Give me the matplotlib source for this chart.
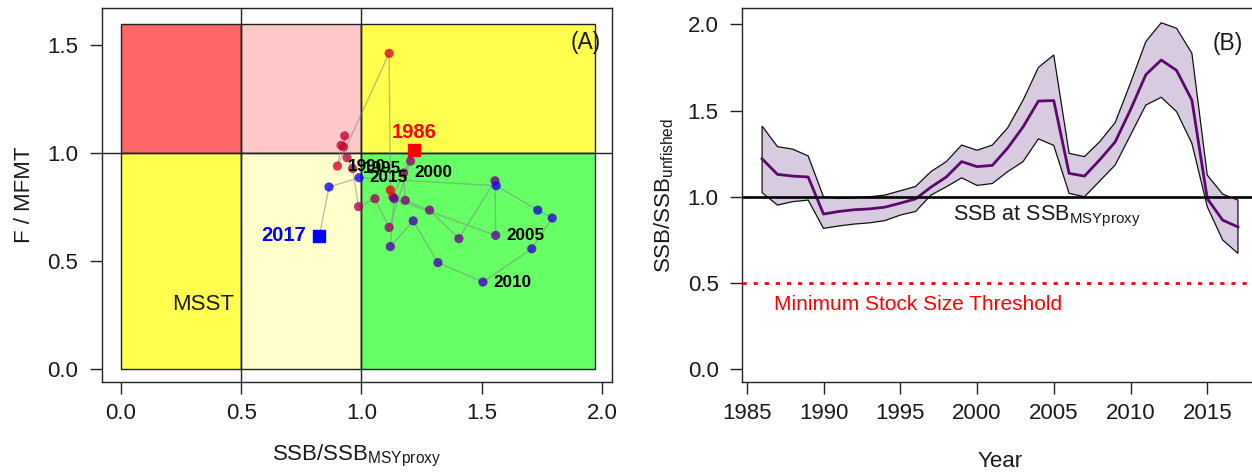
import numpy as np
import matplotlib
matplotlib.use('Agg')
import matplotlib.pyplot as plt
from matplotlib.patches import Rectangle

plt.rcParams['font.family'] = ['Liberation Sans', 'DejaVu Sans']
plt.rcParams['mathtext.fontset'] = 'custom'
plt.rcParams['mathtext.rm'] = 'Liberation Sans'
plt.rcParams['mathtext.it'] = 'Liberation Sans:italic'
plt.rcParams['mathtext.bf'] = 'Liberation Sans:bold'

# ---------------- data ----------------
years = list(range(1986, 2018))
ssb_ratio = [1.22, 1.13, 1.12, 1.115, 0.90, 0.915, 0.925, 0.93, 0.94, 0.963,
             0.988, 1.056, 1.115, 1.204, 1.175, 1.182, 1.283, 1.405, 1.555, 1.558,
             1.136, 1.12, 1.215, 1.318, 1.505, 1.708, 1.793, 1.733, 1.56, 0.99,
             0.865, 0.825]
f_ratio = [1.015, 0.799, 0.830, 1.463, 0.941, 1.037, 1.030, 1.081, 0.980, 0.930,
           0.753, 0.790, 0.657, 0.964, 0.909, 0.782, 0.737, 0.605, 0.873, 0.620,
           0.790, 0.568, 0.687, 0.494, 0.404, 0.558, 0.700, 0.737, 0.850, 0.887,
           0.844, 0.619]
ssb_lower = [1.024, 0.952, 0.972, 0.981, 0.817, 0.831, 0.842, 0.849, 0.862, 0.894,
             0.915, 1.01, 1.058, 1.11, 1.066, 1.077, 1.146, 1.204, 1.336, 1.298,
             1.02, 1.0, 1.092, 1.184, 1.358, 1.532, 1.577, 1.494, 1.31, 0.943,
             0.75, 0.672]
ssb_upper = [1.41, 1.291, 1.276, 1.237, 1.0, 0.99, 0.995, 1.0, 1.01, 1.035,
             1.06, 1.146, 1.204, 1.30, 1.27, 1.30, 1.40, 1.56, 1.75, 1.822,
             1.252, 1.233, 1.32, 1.43, 1.66, 1.90, 2.009, 1.977, 1.832, 1.126,
             1.016, 0.981]
label_years = [1990, 1995, 2000, 2005, 2010, 2015]
x_ticks_a = [0.0, 0.5, 1.0, 1.5, 2.0]
y_ticks_a = [0.0, 0.5, 1.0, 1.5]
x_ticks_b = [1985, 1990, 1995, 2000, 2005, 2010, 2015]
y_ticks_b = [0.0, 0.5, 1.0, 1.5, 2.0]
msst_level = 0.5
msy_level = 1.0
zone_xmax = 1.97
zone_ymax = 1.6

# ---------------- figure ----------------
W, H = 1252, 474
fig = plt.figure(figsize=(W / 100, H / 100), dpi=100)
ax1 = fig.add_axes([102 / W, (H - 382) / H, 510 / W, 374 / H])
ax2 = fig.add_axes([742.3 / W, (H - 382.3) / H, 514.6 / W, 374 / H])

tick_col = '#1a1a1a'
FS = 16

def style(ax):
    for s in ax.spines.values():
        s.set_linewidth(1.0)
        s.set_color('#222222')
    ax.tick_params(direction='out', length=8.6, width=1.0, colors='#222222',
                   labelcolor=tick_col, labelsize=FS)
    ax.tick_params(axis='x', pad=6.5)
    ax.tick_params(axis='y', pad=8.5)

# ---------------- panel A ----------------
zones = [
    (0.0, 1.0, 0.5, zone_ymax - 1.0, '#FF6666'),
    (0.5, 1.0, 0.5, zone_ymax - 1.0, '#FFC8C8'),
    (1.0, 1.0, zone_xmax - 1.0, zone_ymax - 1.0, '#FFFF4D'),
    (0.0, 0.0, 0.5, 1.0, '#FFFF4D'),
    (0.5, 0.0, 0.5, 1.0, '#FFFFCC'),
    (1.0, 0.0, zone_xmax - 1.0, 1.0, '#66FF66'),
]
for x0, y0, w, h, c in zones:
    ax1.add_patch(Rectangle((x0, y0), w, h, facecolor=c, edgecolor='#222222',
                            linewidth=1.0, zorder=1))
ax1.axvline(0.5, color='#222222', lw=1.0, zorder=2)
ax1.axvline(1.0, color='#222222', lw=1.0, zorder=2)
ax1.axhline(1.0, color='#222222', lw=1.0, zorder=2)

ax1.plot(ssb_ratio, f_ratio, color=(0.5, 0.5, 0.5), alpha=0.5, lw=1.0, zorder=3)
n = len(years)
cols = [(1 - i / (n - 1), 0.0, i / (n - 1), 0.78) for i in range(n)]
ax1.scatter(ssb_ratio[1:-1], f_ratio[1:-1], s=44, c=cols[1:-1], edgecolors='none',
            zorder=4)
ax1.plot(ssb_ratio[0], f_ratio[0], 's', color='red', ms=8, zorder=5)
ax1.plot(ssb_ratio[-1], f_ratio[-1], 's', color='blue', ms=8, zorder=5)
ax1.annotate(str(years[0]), (ssb_ratio[0], f_ratio[0]), xytext=(0, 13),
             textcoords='offset points', ha='center', va='center', color='red',
             fontsize=14.5, fontweight='bold', zorder=6)
ax1.annotate(str(years[-1]), (ssb_ratio[-1], f_ratio[-1]), xytext=(-10, 0),
             textcoords='offset points', ha='right', va='center', color='blue',
             fontsize=14.5, fontweight='bold', zorder=6)
for yr in label_years:
    i = years.index(yr)
    ax1.annotate(str(yr), (ssb_ratio[i], f_ratio[i]), xytext=(7.7, 0),
                 textcoords='offset points', ha='left', va='center', color='black',
                 fontsize=12.3, fontweight='bold', zorder=6)
ax1.text(0.343, 0.298, 'MSST', fontsize=16, ha='center', va='center', color='#1a1a1a')
ax1.text(0.949, 0.908, '(A)', transform=ax1.transAxes, fontsize=16.5, ha='center',
         va='center', color='#1a1a1a')

ax1.set_xlim(-0.079, -0.079 + 510 / 240.5)
ax1.set_ylim(-0.059, 1.673)
ax1.set_xticks(x_ticks_a)
ax1.set_xticklabels([f'{v:.1f}' for v in x_ticks_a])
ax1.set_yticks(y_ticks_a)
ax1.set_yticklabels([f'{v:.1f}' for v in y_ticks_a])
style(ax1)
ax1.set_xlabel(r'SSB/SSB$_{\mathrm{MSYproxy}}$', fontsize=FS, color=tick_col)
ax1.xaxis.set_label_coords(0.5, -0.162)
ax1.set_ylabel('F / MFMT', fontsize=FS, color=tick_col)
ax1.yaxis.set_label_coords(-0.132, 0.5)

# ---------------- panel B ----------------
yrs = np.array(years)
ax2.fill(np.concatenate([yrs, yrs[::-1]]),
         np.concatenate([np.array(ssb_upper), np.array(ssb_lower)[::-1]]),
         facecolor='#D8CBE0', edgecolor='#111111', linewidth=0.9, zorder=2)
ax2.plot(yrs, ssb_ratio, color='#5B0A6B', lw=2.0, zorder=3)
ax2.axhline(msy_level, color='black', lw=1.9, zorder=4)
ax2.axhline(msst_level, color='red', lw=2.0, linestyle=(0, (1.5, 2.5)), zorder=4)
ax2.text(1998.44, 0.866, r'SSB at SSB$_{\mathrm{MSYproxy}}$', fontsize=15.5,
         ha='left', va='baseline', color='#1a1a1a', zorder=5)
ax2.text(1986.75, 0.344, 'Minimum Stock Size Threshold', fontsize=15, ha='left',
         va='baseline', color='red', zorder=5)
ax2.text(0.944, 0.905, '(B)', transform=ax2.transAxes, fontsize=16.5, ha='center',
         va='center', color='#1a1a1a')

ax2.set_xlim(1984.71, 1984.71 + 514.6 / 15.35)
ax2.set_ylim(-0.0754, 2.0928)
ax2.set_xticks(x_ticks_b)
ax2.set_yticks(y_ticks_b)
ax2.set_yticklabels([f'{v:.1f}' for v in y_ticks_b])
style(ax2)
ax2.set_xlabel('Year', fontsize=FS, color=tick_col)
ax2.xaxis.set_label_coords(0.5, -0.184)
ax2.set_ylabel(r'SSB/SSB$_{\mathrm{unfished}}$', fontsize=FS, color=tick_col)
ax2.yaxis.set_label_coords(-0.129, 0.5)

fig.savefig('out.png', dpi=100)
